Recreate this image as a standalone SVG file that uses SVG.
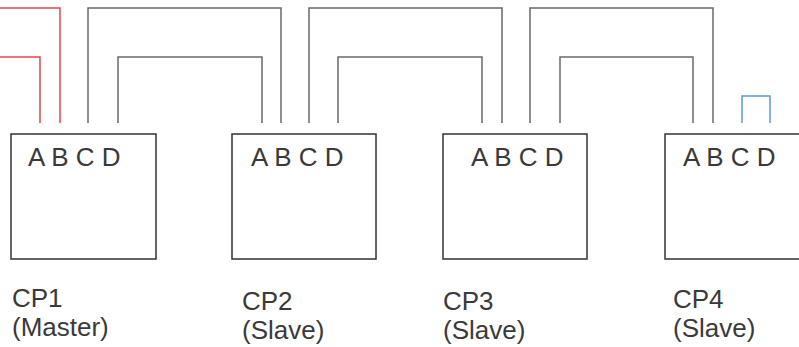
<svg xmlns="http://www.w3.org/2000/svg" width="799" height="347" viewBox="0 0 799 347">
<style>
.box{fill:#fff;stroke:#333;stroke-width:1.5}
.w{fill:none;stroke:#6a6a6a;stroke-width:1.5}
.red{fill:none;stroke:#e8434c;stroke-width:1.5}
.blue{fill:none;stroke:#5b9bd5;stroke-width:1.5}
text{font-family:"Liberation Sans",Arial,sans-serif;font-size:26px;fill:#3a3a3a}
</style>
<rect width="799" height="347" fill="#fff"/>
<g id="connectors">
<polyline class="red" points="0,8 60,8 60,123"/>
<polyline class="red" points="0,57 40,57 40,123"/>
<polyline class="w" points="88,123 88,8 281,8 281,123"/>
<polyline class="w" points="118,123 118,57 262,57 262,123"/>
<polyline class="w" points="309,123 309,8 502,8 502,123"/>
<polyline class="w" points="338,123 338,57 482,57 482,123"/>
<polyline class="w" points="530,123 530,8 713,8 713,123"/>
<polyline class="w" points="560,123 560,57 693,57 693,123"/>
<polyline class="blue" points="742,123 742,96 770,96 770,123"/>
</g>
<g id="cp1">
<rect class="box" x="11" y="134" width="145" height="125"/>
<text x="28" y="166">A B C D</text>
<text x="12" y="307">CP1</text>
<text x="12" y="336">(Master)</text>
</g>
<g id="cp2">
<rect class="box" x="232" y="134" width="144" height="125"/>
<text x="251" y="166">A B C D</text>
<text x="242" y="310">CP2</text>
<text x="242" y="339">(Slave)</text>
</g>
<g id="cp3">
<rect class="box" x="443" y="134" width="144" height="125"/>
<text x="471" y="166">A B C D</text>
<text x="443" y="310">CP3</text>
<text x="443" y="339">(Slave)</text>
</g>
<g id="cp4">
<rect class="box" x="665" y="134" width="150" height="125"/>
<text x="683" y="166">A B C D</text>
<text x="673" y="308">CP4</text>
<text x="673" y="337">(Slave)</text>
</g>
</svg>
